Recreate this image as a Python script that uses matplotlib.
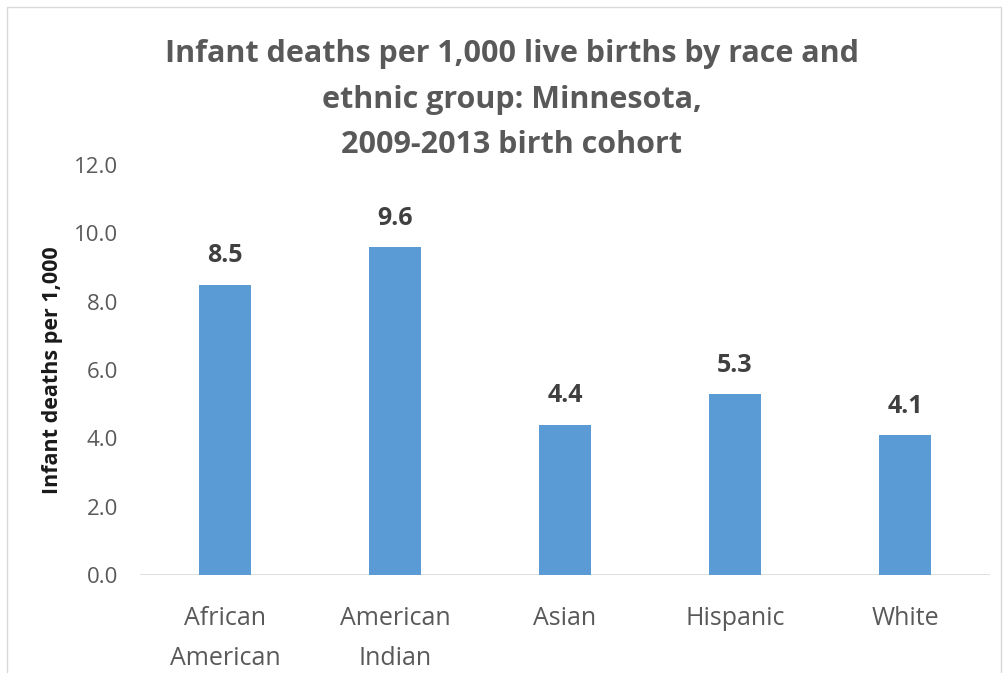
import matplotlib
matplotlib.use("Agg")
import matplotlib.pyplot as plt
from matplotlib.patches import Rectangle

categories = ["African\nAmerican", "American\nIndian", "Asian", "Hispanic", "White"]
values = [8.5, 9.6, 4.4, 5.3, 4.1]
yticks = [0, 2, 4, 6, 8, 10, 12]
title = "Infant deaths per 1,000 live births by race and\nethnic group: Minnesota,\n2009-2013 birth cohort"
ylabel = "Infant deaths per 1,000"

plt.rcParams['font.family'] = ['Open Sans', 'DejaVu Sans']

fig = plt.figure(figsize=(10.04, 6.73), dpi=100)
fig.patch.set_facecolor("white")

# chart frame
fig.add_artist(Rectangle((7/1004, -0.01), 1 - 10/1004, 1 - 7/673 + 0.01, transform=fig.transFigure,
                         fill=False, edgecolor="#d9d9d9", linewidth=1.0))

ax = fig.add_axes([140/1004, (673-575)/673, 850/1004, 410/673])
x = list(range(len(categories)))
ax.bar(x, values, width=0.31, color="#5B9BD5", zorder=2)
ax.set_xlim(-0.5, len(categories) - 0.5)
ax.set_ylim(0, 12)
ax.set_yticks(yticks)
ax.set_yticklabels([f"{v:.1f}" for v in yticks])
ax.set_xticks(x)
ax.set_xticklabels(categories, linespacing=1.8)
for s in ax.spines.values():
    s.set_visible(False)
ax.axhline(0, color="#d9d9d9", linewidth=1.2, zorder=1)
ax.tick_params(axis="both", length=0, colors="#595959")
ax.tick_params(axis="y", pad=16, labelsize=16)
ax.tick_params(axis="x", pad=22, labelsize=18)

for xi, v in zip(x, values):
    ax.annotate(f"{v:.1f}", (xi, v), xytext=(0, 16), textcoords="offset points",
                ha="center", va="baseline", fontsize=18, fontweight="bold", color="#404040")

ax.set_ylabel(ylabel, fontsize=15.5, fontweight="bold", color="#1a1a1a", labelpad=8)

fig.text(512/1004, 1 - 39/673, title, ha="center", va="top", fontsize=22,
         fontweight="bold", color="#595959", linespacing=1.68)

fig.savefig("out.png", dpi=100, facecolor="white")
